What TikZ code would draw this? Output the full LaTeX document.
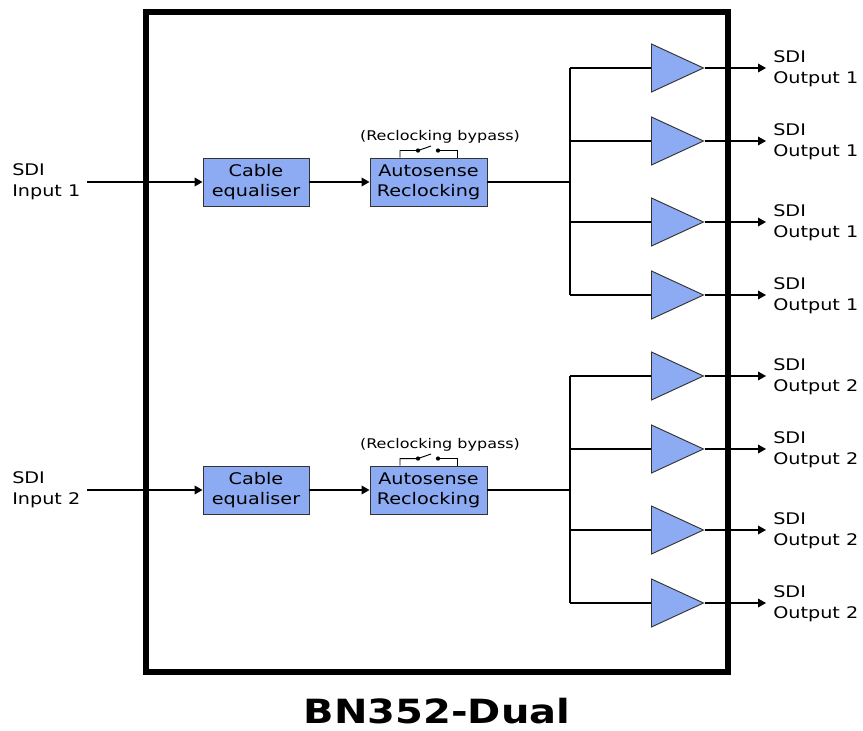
\documentclass[tikz,border=0pt]{standalone}
\usepackage{fontspec}
\setmainfont[FakeStretch=1.2]{DejaVu Sans}
\usetikzlibrary{shapes.geometric,arrows.meta}
\definecolor{blockblue}{HTML}{8DABF2}
\tikzset{
  blockbox/.style={draw=black!80, fill=blockblue, line width=0.7pt, minimum width=#1,
    minimum height=36pt, inner sep=0pt, align=center, font=\fontsize{12}{15}\selectfont},
  ampbuf/.style={isosceles triangle, isosceles triangle stretches, draw=black!80,
    fill=blockblue, line width=0.7pt, minimum width=36pt, minimum height=39pt,
    inner sep=0pt, shape border rotate=0},
  sig/.style={-{Triangle[length=6pt,width=6.5pt]}, line width=1pt},
  wire/.style={line width=1pt},
  lbl/.style={align=left, inner sep=0pt, font=\fontsize{12}{16}\selectfont}
}
\begin{document}
\begin{tikzpicture}[x=0.75pt,y=-0.75pt]
\useasboundingbox (0,0) rectangle (863,731);
\fill[white] (0,0) rectangle (863,731);
% unit frame
\draw[line width=4pt] (146,12) rectangle (728,672);
\node[inner sep=0pt, font=\fontsize{25}{28}\selectfont\bfseries] (title) at (437,711) {BN352-Dual};
% two identical channels
\foreach \ch/\yo in {1/0,2/308}{
  \node[lbl,anchor=west] (in\ch) at (12,182+\yo) {SDI\\Input \ch};
  \node[blockbox=79.5pt] (eq\ch) at (256,182+\yo) {Cable\\equaliser};
  \node[blockbox=87.75pt] (rc\ch) at (428.5,182+\yo) {Autosense\\Reclocking};
  \draw[sig] ([xshift=4.5pt]in\ch.east) -- (eq\ch);
  \draw[sig] (eq\ch) -- (rc\ch);
  % bypass switch
  \draw[wire,line width=0.7pt] (rc\ch.north) ++(-28.5,0) -- ++(0,-7) -- ++(18,0) coordinate (swa\ch) -- ++(13,-4.5);
  \draw[wire,line width=0.7pt] (rc\ch.north) ++(28.5,0) -- ++(0,-7) -- ++(-19,0) coordinate (swb\ch);
  \fill (swa\ch) circle (1.6pt) (swb\ch) circle (1.6pt);
  \node[font=\fontsize{10}{12}\selectfont] (byp\ch) at (440,137+\yo) {(Reclocking bypass)};
  % fan out
  \coordinate (split\ch) at (570,182+\yo);
  \draw[wire] (rc\ch) -- (split\ch);
  \foreach \k/\ya in {1/68,2/141,3/222,4/295}{
    \node[ampbuf,anchor=west] (amp\ch\k) at (651,\ya+\yo) {};
    \draw[wire] (split\ch |- amp\ch\k.west) -- (amp\ch\k.west);
    \coordinate (tip\ch\k) at (766,\ya+\yo);
    \draw[sig] (amp\ch\k.apex) -- (tip\ch\k);
    \node[lbl,anchor=west] (out\ch\k) at (773,\ya+1+\yo) {SDI\\Output \ch};
  }
  \draw[wire] (split\ch |- amp\ch1.west) -- (split\ch |- amp\ch4.west);
}
\end{tikzpicture}
\end{document}
